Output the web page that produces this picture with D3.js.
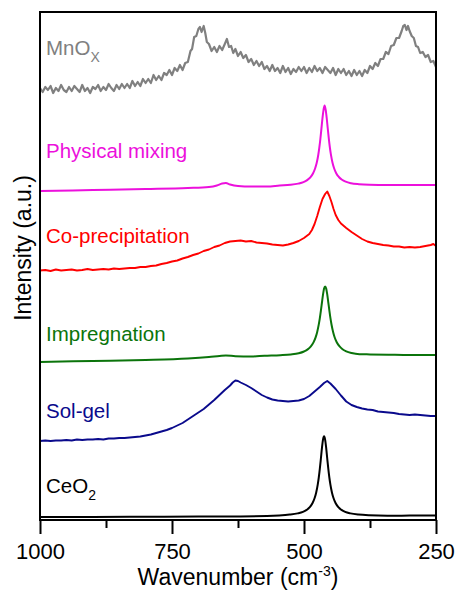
<!DOCTYPE html>
<html>
<head>
<meta charset="utf-8">
<script src="https://cdn.jsdelivr.net/npm/d3@7"></script>
<style>
  body { margin: 0; background: #fff; }
  svg { display: block; font-family: "Liberation Sans", Arial, sans-serif; }
</style>
</head>
<body>
<div id="canvas"></div>
<script>
"use strict"

/*** DATA ([wavenumber cm-1, intensity a.u.]) ***/
const xTicks = [1000, 750, 500, 250]
const xMinorTicks = [875, 625, 375]

const mnox = [[1000,432],[995,428],[990,433],[985,430],[980,434],[975,427],[970,432],[965,429],[960,435],[955,430],
  [950,428],[945,433],[940,429],[935,434],[930,431],[925,428],[920,435],[915,429],[910,432],[905,427],
  [900,433],[895,431],[890,435],[885,429],[880,433],[875,430],[870,436],[865,432],[860,429],[855,435],
  [850,431],[845,436],[840,432],[835,436],[830,432],[825,439],[820,434],[815,438],[810,434],[805,441],
  [800,437],[795,441],[790,437],[785,445],[780,440],[775,444],[770,440],[765,447],[760,445],[755,450],
  [750,445],[745,452],[740,449],[735,455],[730,450],[725,457],[720,458],[715,469],[712,471],[708,483],
  [704,484],[700,491],[697,493],[694,488],[690,494],[687,487],[684,478],[680,476],[675,469],[670,473],
  [665,468],[660,474],[655,470],[650,476],[646,481],[642,473],[638,474],[634,467],[630,471],[625,464],
  [620,468],[615,462],[610,465],[605,458],[600,461],[595,455],[590,459],[585,454],[580,458],[575,451],
  [570,454],[565,449],[560,455],[555,449],[550,452],[545,447],[540,454],[535,448],[530,452],[525,446],
  [520,451],[515,448],[510,453],[505,449],[500,453],[495,447],[490,452],[485,448],[480,454],[475,449],
  [470,452],[465,447],[460,453],[455,450],[450,447],[445,452],[440,445],[435,451],[430,447],[425,451],
  [420,445],[415,449],[410,444],[405,450],[400,445],[395,449],[390,444],[385,450],[380,447],[375,454],
  [370,451],[365,457],[360,454],[355,461],[350,461],[345,468],[340,466],[335,474],[330,475],[325,482],
  [320,482],[315,489],[312,494],[309,495],[306,490],[303,494],[300,489],[296,484],[292,482],[288,474],
  [284,473],[280,467],[275,468],[270,463],[265,465],[260,458],[255,459],[250,453]]

const physicalMixing = [[1000,329],[900,330],[800,331],[720,332],[680,333],[665,334.5],[655,336.5],[648,337],
  [640,335.5],[625,334],[600,333.5],[570,333.5],[546,334.5],[526,335.2],[511,336.4],[501,337.9],[494,339.9],
  [488,342.6],[483,346.5],[479,351.5],[476,357],[473,365],[471,372.3],[469,381],[467,391.3],[465,401.9],
  [463,410.2],[461,414.5],[459,410.3],[457,402],[455,391.5],[453,381.3],[451,372.5],[449,365.3],[446,357.3],
  [443,351.8],[439,346.8],[434,343],[428,340.2],[421,338.3],[411,336.8],[396,335.8],[376,335.2],[341,334.9],
  [300,335],[250,335]]

const coPrecipitation = [[1000,249.5],[990,250],[980,249],[970,250.5],[960,249.5],[950,250],[940,250.5],[930,249.5],
  [920,250],[910,251],[900,250],[890,250.5],[880,251],[870,250.5],[860,251.5],[850,251],[840,251.5],[830,252],
  [820,252],[810,253],[800,253],[790,254],[780,254.5],[770,256],[760,257],[750,258.5],[740,259.5],[730,261.5],
  [720,263],[710,265],[700,266.5],[690,269],[680,270.5],[670,273],[660,274.5],[650,277],[640,278.5],[630,279],
  [620,279.5],[610,278.5],[600,279],[590,277.5],[580,277],[570,276.5],[560,275.5],[550,275],[540,274.5],
  [530,275.5],[520,277],[510,279],[500,282],[490,286],[485,290],[480,296],[475,304],[470,313],[465,321],
  [460,326],[456,328.5],[452,324],[448,318],[444,311],[440,305],[435,300],[430,296.5],[420,292],[410,288],
  [400,284.5],[390,281],[380,278.5],[370,277],[360,276],[350,275],[340,274.5],[330,273.5],[320,273.5],
  [310,272.5],[300,273],[290,272.5],[280,273],[270,274],[260,275],[255,276],[250,274]]

const impregnation = [[1000,158],[900,159],[800,160],[720,161.5],[680,163],[660,164],[648,164.5],[630,163.8],
  [600,163.5],[575,164.2],[545,164.8],[525,165.5],[510,166.7],[500,168.5],[493,170.6],[487,173.6],[482,177.6],
  [478,182.6],[475,188.1],[472,195.6],[470,201.9],[468,209.4],[466,217.5],[464,225.4],[462,231.4],[460,233.6],
  [458,231.6],[456,225.6],[454,217.7],[452,209.6],[450,202.1],[448,195.8],[445,188.3],[442,182.8],[438,177.8],
  [433,173.8],[427,170.8],[420,168.7],[410,167],[395,165.8],[375,165.6],[340,165.3],[300,165],[250,165]]

const solGel = [[1000,79],[990,79.5],[980,79],[970,79.5],[960,79.5],[950,80],[940,79.5],[930,80.5],[920,80],
  [910,80.5],[900,80.5],[890,81],[880,80.5],[870,81.5],[860,81.5],[850,82],[840,82],[830,82.5],[820,83],
  [810,83.5],[800,84.5],[790,85.5],[780,87],[770,88.5],[760,90],[750,92],[740,94.5],[730,97],[720,100.5],
  [710,104],[700,107.5],[690,111],[680,115.5],[670,120],[660,125],[650,130],[640,134.5],[635,137.5],
  [630,139.5],[625,139],[620,137.5],[610,135],[600,132],[590,128.5],[580,125],[570,122.5],[560,120.5],
  [550,119.5],[540,119],[530,118.5],[520,119],[510,119.5],[500,121],[490,124],[480,128.5],[470,133],
  [462,137],[456,139],[450,136.5],[440,131],[430,124.5],[420,118.5],[410,115],[400,113],[390,111.5],
  [380,110.5],[370,110],[360,108.5],[350,108],[340,107.5],[330,107],[320,106],[310,105.5],[300,105],
  [290,105.5],[280,105],[270,104.5],[260,104],[250,104]]

const ceo2 = [[1000,3],[900,3.1],[800,3.3],[700,3.5],[620,3.6],[547,4.6],[527,5.4],[512,6.6],[502,8.1],
  [495,10.1],[489,12.8],[484,16.7],[480,21.7],[477,27.3],[474,35.3],[472,42.5],[470,51.3],[468,61.5],
  [466,72.1],[464,80.4],[462,83.7],[460,80.4],[458,72.1],[456,61.5],[454,51.3],[452,42.5],[450,35.3],
  [447,27.3],[444,21.7],[440,16.7],[435,12.8],[429,10.1],[422,8.1],[412,6.6],[397,5.4],[377,4.7],
  [342,4.3],[300,4.4],[250,4.5]]

/*** CANVAS SETUP ***/
let svgWidth = 457
let svgHeight = 590
let margin = { top: 12, right: 21, bottom: 70, left: 40 }

let svg = d3.select("#canvas")
    .append("svg")
    .attr("width", svgWidth)
    .attr("height", svgHeight)

let xScale = d3.scaleLinear()
    .domain([1000, 250])                                    // reversed wavenumber axis
    .range([margin.left, svgWidth - margin.right])

let yScale = d3.scaleLinear()
    .domain([0, 508])
    .range([svgHeight - margin.bottom, margin.top])

/* one entry per spectrum, top to bottom */
let spectra = [
    { data: mnox, color: "#808080", smooth: false, width: 2.2, label: "MnO", sub: "X", ly: 55 },
    { data: physicalMixing, color: "#ec10dc", smooth: true, width: 2, label: "Physical mixing", ly: 158 },
    { data: coPrecipitation, color: "#ff0000", smooth: false, width: 1.9, label: "Co-precipitation", ly: 243 },
    { data: impregnation, color: "#0b740b", smooth: true, width: 2, label: "Impregnation", ly: 341 },
    { data: solGel, color: "#0a0a8c", smooth: false, width: 1.9, label: "Sol-gel", ly: 418 },
    { data: ceo2, color: "#000000", smooth: true, width: 2, label: "CeO", sub: "2", ly: 493 }
]

spectra.forEach(function (s) {
    let line = d3.line()
        .x(function (d) { return xScale(d[0]) })
        .y(function (d) { return yScale(d[1]) })
        .curve(s.smooth ? d3.curveMonotoneX : d3.curveLinear)

    svg.append("path")
        .datum(s.data)
        .attr("d", line)
        .attr("fill", "none")
        .attr("stroke", s.color)
        .attr("stroke-width", s.width)
        .attr("stroke-linejoin", "round")

    let t = svg.append("text")
        .attr("x", 46)
        .attr("y", s.ly)
        .attr("fill", s.color)
        .attr("font-size", "20.5px")
        .text(s.label)
    if (s.sub) {
        t.append("tspan")
            .attr("font-size", "14px")
            .attr("dy", 7)
            .text(s.sub)
    }
})

/*** AXES ***/
let plotBottom = svgHeight - margin.bottom

/* minor ticks */
let minor = svg.append("g")
    .attr("transform", "translate(0," + plotBottom + ")")
    .call(d3.axisBottom(xScale).tickValues(xMinorTicks).tickSize(8).tickFormat(""))
minor.select(".domain").remove()
minor.selectAll("line").attr("stroke-width", 2)

/* major ticks with labels */
let xAxis = svg.append("g")
    .attr("transform", "translate(0," + plotBottom + ")")
    .call(d3.axisBottom(xScale).tickValues(xTicks).tickSize(14).tickPadding(9).tickFormat(d3.format("d")))
xAxis.select(".domain").remove()
xAxis.selectAll("line").attr("stroke-width", 2)
xAxis.selectAll("text")
    .attr("font-size", "22px")
    .attr("font-family", "Liberation Sans, Arial, sans-serif")
    .attr("fill", "#000")

/* frame */
svg.append("rect")
    .attr("x", margin.left)
    .attr("y", margin.top)
    .attr("width", svgWidth - margin.left - margin.right)
    .attr("height", plotBottom - margin.top)
    .attr("fill", "none")
    .attr("stroke", "#000")
    .attr("stroke-width", 2)

/* axis titles */
let xTitle = svg.append("text")
    .attr("x", (margin.left + svgWidth - margin.right) / 2)
    .attr("y", 585)
    .attr("text-anchor", "middle")
    .attr("font-size", "23px")
    .attr("fill", "#000")
    .text("Wavenumber (cm")
xTitle.append("tspan").attr("font-size", "14px").attr("dy", -9).text("-3")
xTitle.append("tspan").attr("dy", 9).text(")")

svg.append("text")
    .attr("transform", "translate(31,248) rotate(-90)")
    .attr("text-anchor", "middle")
    .attr("font-size", "23px")
    .attr("fill", "#000")
    .text("Intensity (a.u.)")
</script>
</body>
</html>
